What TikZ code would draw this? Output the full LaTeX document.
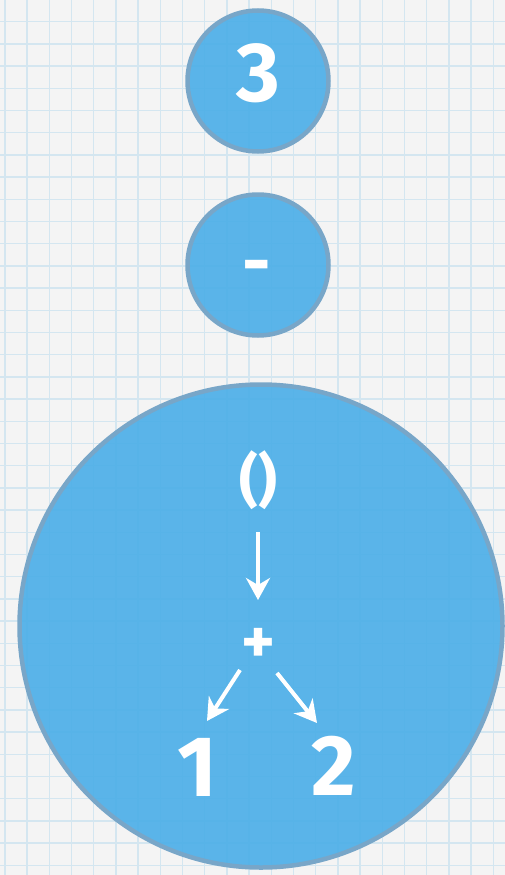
\documentclass[tikz,border=0pt]{standalone}
\usepackage{fontspec}
\setmainfont{Fira Sans}
\usetikzlibrary{arrows.meta,calc}
\definecolor{paper}{RGB}{244,244,244}
\definecolor{gridc}{RGB}{212,230,240}
\definecolor{bubble}{RGB}{74,174,232}
\definecolor{rim}{RGB}{120,166,200}
\tikzset{
  bub/.style={circle, draw=rim, line width=4.5pt, fill=bubble, fill opacity=0.9, draw opacity=1, inner sep=0pt},
  lbl/.style={text=white, inner sep=0pt, font=\bfseries},
  arr/.style={draw=white, line width=4pt, -{Stealth[length=22pt,width=24pt,inset=7pt]}},
  gridline/.style={draw=gridc, line width=1.3pt}
}
\begin{document}
\begin{tikzpicture}[x=1pt,y=-1pt]
\useasboundingbox (0,0) rectangle (505,875);
\fill[paper] (0,0) rectangle (505,875);
\foreach \i in {0,...,22} \draw[gridline] ({4.9+22.2*\i},0) -- ++(0,875);
\foreach \j in {0,...,40} \draw[gridline] (0,{22.2*\j-0.5}) -- ++(505,0);
% bubbles
\node[bub, minimum size=141pt] (b1) at (258,81) {};
\node[bub, minimum size=141pt] (b2) at (258,265) {};
\node[bub, minimum size=483pt] (b3) at (261,626) {};
% labels
\node[lbl, font=\fontsize{84}{84}\selectfont\bfseries] (t3) at (258,73) {3};
\node[lbl, font=\fontsize{70}{70}\selectfont\bfseries] (tm) at (257,273) {-};
\node[lbl, font=\fontsize{58}{58}\selectfont\bfseries] (paren) at (258,480) {()};
\node[lbl, font=\fontsize{64}{64}\selectfont\bfseries] (plus) at (258,646) {+};
\node[lbl, font=\fontsize{86}{86}\selectfont\bfseries] (one) at (197,767) {1};
\node[lbl, font=\fontsize{86}{86}\selectfont\bfseries] (two) at (334,766) {2};
% arrows
\draw[arr] ($(paren)+(0,52)$) -- ($(plus)+(0,-46)$);
\draw[arr] ($(plus)+(-18,24)$) -- ($(one)+(10,-46)$);
\draw[arr] ($(plus)+(19,27)$) -- ($(two)+(-17,-43)$);
\end{tikzpicture}
\end{document}
